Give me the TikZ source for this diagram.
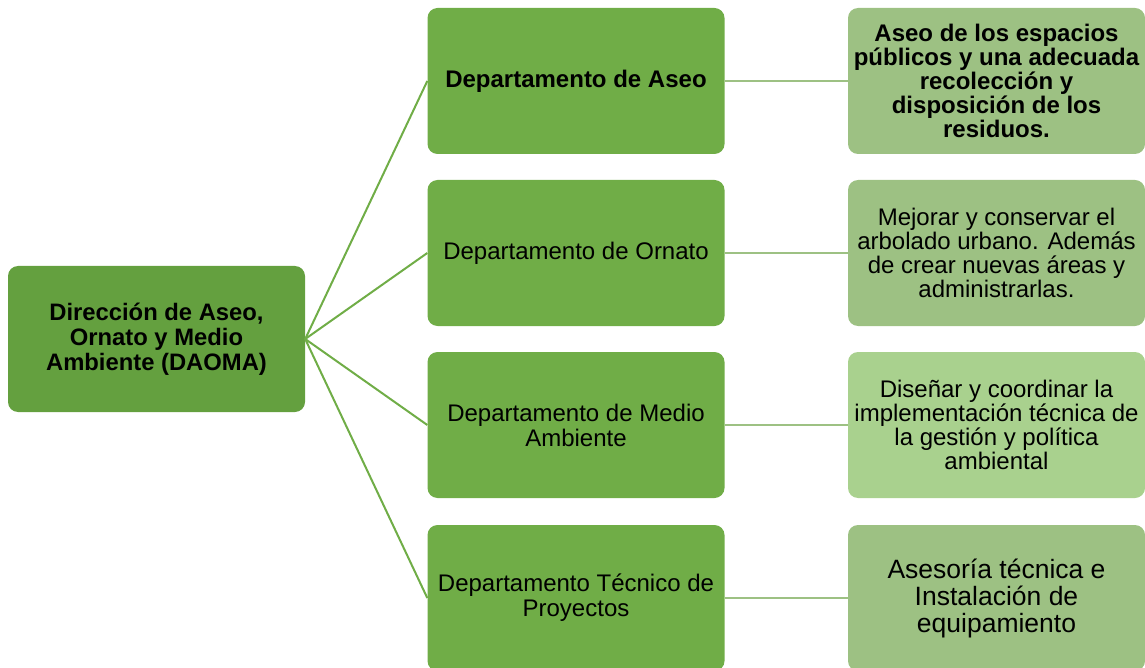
\documentclass[tikz,border=0pt]{standalone}
\usepackage{fontspec}
\setmainfont{Liberation Sans}
\definecolor{raiz}{HTML}{64A03F}
\definecolor{depto}{HTML}{70AD47}
\definecolor{funcion}{HTML}{9DC183}
\definecolor{funcionb}{HTML}{A9D18E}
\begin{document}
\begin{tikzpicture}[x=1pt,y=-1pt,
  every node/.style={rectangle,rounded corners=10pt,minimum width=297pt,minimum height=146pt,align=center,inner sep=0pt,text=black},
  raizbox/.style={fill=raiz,font=\fontsize{23.8}{25}\selectfont\bfseries},
  deptobox/.style={fill=depto,font=\fontsize{24}{25}\selectfont},
  funcbox/.style={fill=funcion,font=\fontsize{24}{24}\selectfont},
  rama/.style={depto,line width=2pt},
  enlace/.style={funcion,line width=2pt}]

\useasboundingbox (0,0) rectangle (1145,668);

\path (156.5,339) node[raizbox](daoma){Dirección de Aseo,\\Ornato y Medio\\Ambiente (DAOMA)};
\path (576,81) node[deptobox](aseo){\bfseries Departamento de Aseo}
      (576,253) node[deptobox](ornato){Departamento de Ornato}
      (576,425) node[deptobox](medio){Departamento de Medio\\Ambiente}
      (576,598) node[deptobox](tecnico){Departamento Técnico de\\Proyectos};
\path (996.5,81) node[funcbox,font=\fontsize{24}{24}\selectfont\bfseries](f1){Aseo de los espacios\\públicos y una adecuada\\recolección y\\disposición de los\\residuos.}
      (996.5,253) node[funcbox](f2){Mejorar y conservar el\\arbolado urbano. Además\\de crear nuevas áreas y\\administrarlas.}
      (996.5,425) node[funcbox,fill=funcionb](f3){Diseñar y coordinar la\\implementación técnica de\\la gestión y política\\ambiental}
      (996.5,598) node[funcbox,font=\fontsize{26.5}{27}\selectfont](f4){Asesoría técnica e\\Instalación de\\equipamiento};

% ramas
\foreach \d in {aseo,ornato,medio,tecnico}
  \draw[rama] (daoma.east) -- (\d.west);
\draw[enlace] (aseo) -- (f1);
\draw[enlace] (ornato) -- (f2);
\draw[enlace] (medio) -- (f3);
\draw[enlace] (tecnico) -- (f4);
\end{tikzpicture}
\end{document}
